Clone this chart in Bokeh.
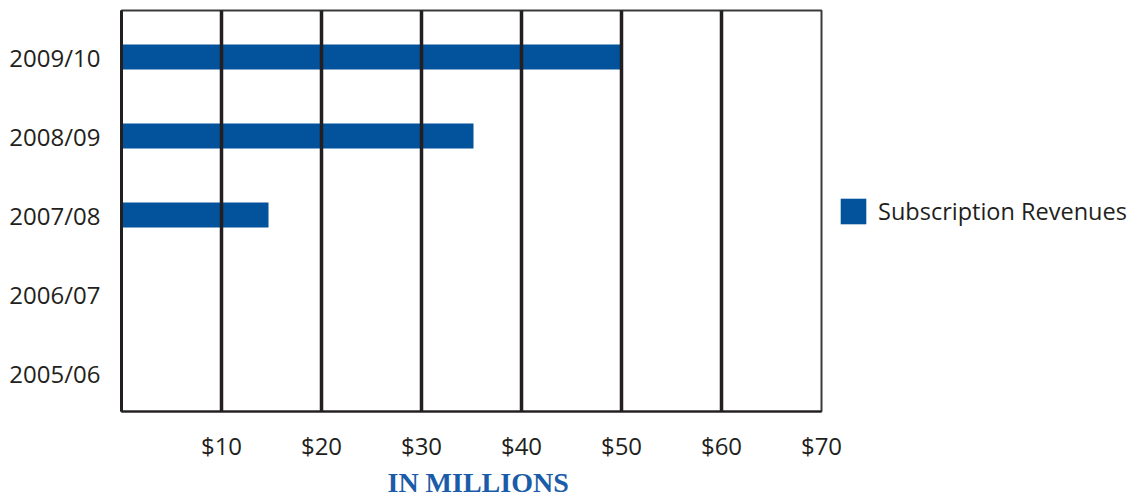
from bokeh.plotting import figure
from bokeh.models import (Range1d, FixedTicker, Legend, LegendItem, Title,
                          ColumnDataSource)
from bokeh.embed import file_html
from bokeh.resources import INLINE

# Fiscal years, bottom to top
years = ["2005/06", "2006/07", "2007/08", "2008/09", "2009/10"]
# Subscription revenues in millions of dollars
revenues = [0.0, 0.0, 14.7, 35.2, 50.0]
x_ticks = [10, 20, 30, 40, 50, 60, 70]
x_tick_labels = ["$10", "$20", "$30", "$40", "$50", "$60", "$70"]

BAR = "#03539c"
INK = "#231f20"
FONT = "Open Sans"

positions = list(range(len(years)))
src = ColumnDataSource(dict(y=positions, right=revenues, year=years))

p = figure(frame_width=700, frame_height=401, output_backend="svg",
           toolbar_location=None,
           x_range=Range1d(0, 70), y_range=Range1d(-0.487, 4.589),
           min_border_left=121, min_border_right=0,
           min_border_top=10, min_border_bottom=89)
p.background_fill_color = "white"
p.border_fill_color = "white"
p.outline_line_color = "#3a3a3a"
p.outline_line_width = 2

bars = p.hbar(y="y", left=0, right="right", height=0.316, source=src,
              fill_color=BAR, line_color=None)

# x axis: dollar ticks
p.xaxis.ticker = FixedTicker(ticks=x_ticks)
p.xaxis.major_label_overrides = {t: s for t, s in zip(x_ticks, x_tick_labels)}
p.xaxis.major_tick_line_color = None
p.xaxis.minor_tick_line_color = None
p.xaxis.axis_line_color = INK
p.xaxis.axis_line_width = 2
p.xaxis.major_label_text_font = FONT
p.xaxis.major_label_text_font_size = "24px"
p.xaxis.major_label_text_color = INK
p.xaxis.major_label_standoff = 11

# y axis: fiscal years
p.yaxis.ticker = FixedTicker(ticks=positions)
p.yaxis.major_label_overrides = {i: y for i, y in zip(positions, years)}
p.yaxis.major_tick_line_color = None
p.yaxis.minor_tick_line_color = None
p.yaxis.axis_line_color = INK
p.yaxis.axis_line_width = 3
p.yaxis.major_label_text_font = FONT
p.yaxis.major_label_text_font_size = "24px"
p.yaxis.major_label_text_color = INK
p.yaxis.major_label_standoff = 15

# vertical grid only
p.ygrid.grid_line_color = None
p.xgrid.ticker = FixedTicker(ticks=x_ticks)
p.xgrid.grid_line_color = INK
p.xgrid.grid_line_width = 3.5
p.xgrid.level = "overlay"

p.add_layout(Title(text="IN MILLIONS", align="left", offset=266,
                   text_font="Liberation Serif", text_font_size="28px",
                   text_font_style="bold", text_color="#1b5ca8",
                   standoff=0), "below")

legend = Legend(items=[LegendItem(label="Subscription Revenues", renderers=[bars])],
                location="left", glyph_width=32, glyph_height=32,
                label_standoff=9, padding=0, margin=16, spacing=0,
                label_text_font=FONT, label_text_font_size="23.5px",
                label_text_color=INK, border_line_color=None,
                background_fill_alpha=0)
p.add_layout(legend, "right")

open("out.html", "w").write(file_html(p, INLINE))
